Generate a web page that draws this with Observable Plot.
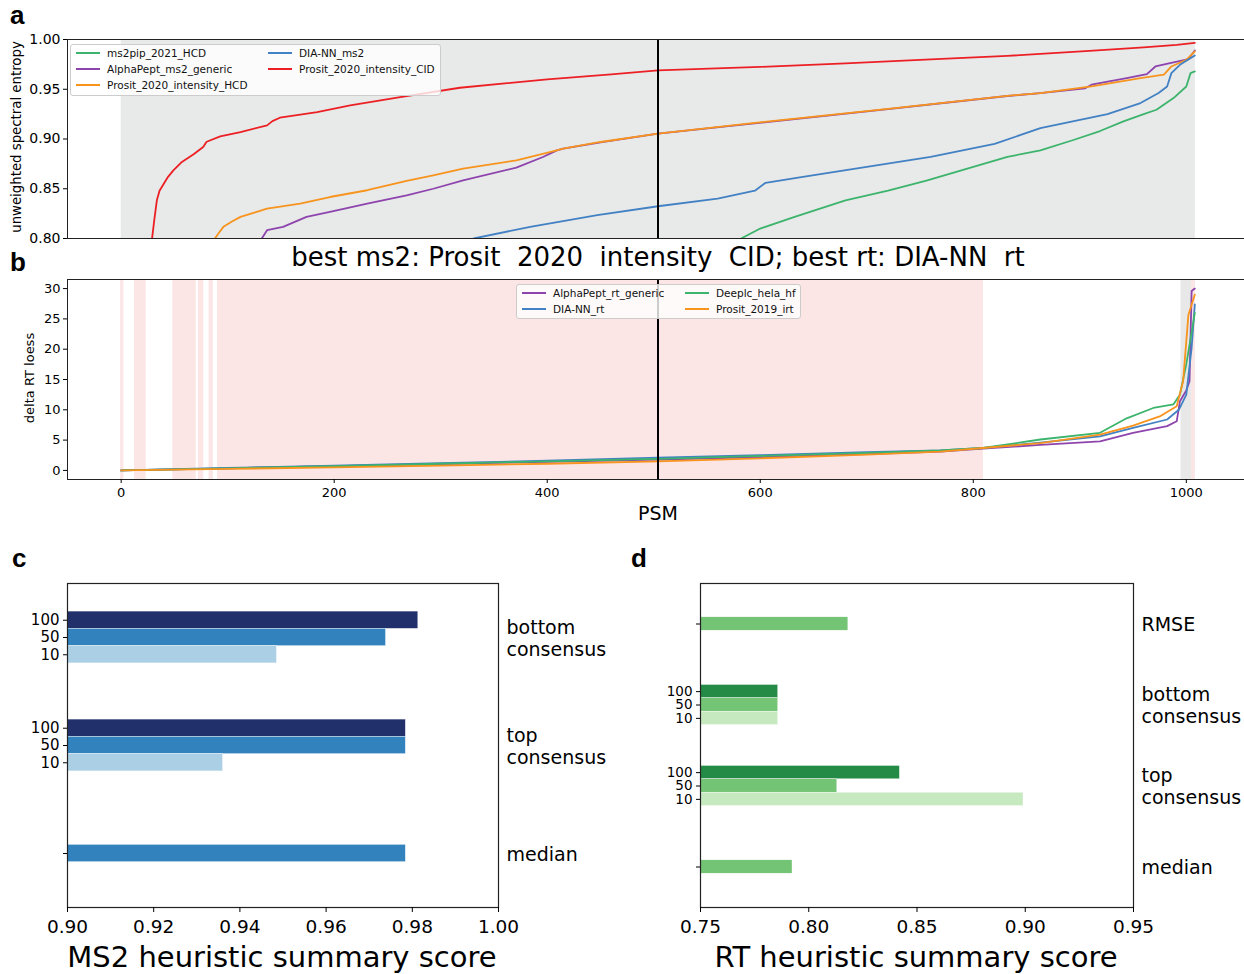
<!DOCTYPE html>
<html>
<head>
<meta charset="utf-8">
<script src="https://cdn.jsdelivr.net/npm/d3@7"></script>
<script src="https://cdn.jsdelivr.net/npm/@observablehq/plot@0.6"></script>
<style>
html, body { margin: 0; padding: 0; background: #fff; width: 1244px; height: 974px; overflow: hidden; }
#root { position: relative; width: 1244px; height: 974px; overflow: hidden; font-family: "DejaVu Sans", sans-serif; color: #000; }
.legend { position: absolute; background: rgba(255,255,255,0.8); border: 1px solid #cccccc; border-radius: 3px; box-sizing: border-box; }
.legend .item { position: absolute; display: flex; align-items: center; font-family: "DejaVu Sans", sans-serif; font-size: 10.5px; white-space: nowrap; color: #111; }
.legend .sw { display: inline-block; width: 24px; height: 2px; margin-right: 7px; }
</style>
</head>
<body>
<div id="root"></div>
<script>
// ---------------- DATA ----------------
// Panel a: sorted unweighted spectral entropy per PSM, [PSM, value]
const ms2pipHCD = [[578,0.78],[582,0.80],[600,0.81],[633,0.822],[680,0.8384],[720,0.848],[756,0.8582],[800,0.872],[832,0.882],[863,0.8886],[894,0.899],[919,0.908],[941,0.9177],[960,0.925],[972,0.9294],[988,0.9411],[1000,0.9528],[1004,0.9662],[1008,0.968]];
const alphaPeptMs2 = [[128,0.78],[132,0.80],[135,0.805],[137,0.8083],[152,0.8117],[174,0.8217],[196,0.8267],[231,0.835],[268,0.8434],[293,0.850],[321,0.8585],[371,0.8712],[396,0.8819],[409,0.8886],[415,0.8903],[450,0.8965],[504,0.9055],[604,0.9168],[720,0.930],[832,0.9432],[863,0.9461],[905,0.951],[911,0.9546],[944,0.9612],[963,0.9652],[971,0.9729],[988,0.9769],[1002,0.9802],[1008,0.989]];
const prositHCD = [[85,0.78],[88,0.80],[92,0.806],[96,0.8117],[104,0.817],[112,0.8217],[125,0.826],[137,0.830],[168,0.835],[196,0.8417],[231,0.8485],[268,0.8578],[293,0.8635],[321,0.8702],[371,0.8786],[409,0.8886],[415,0.8903],[450,0.897],[504,0.9055],[604,0.9172],[720,0.9303],[832,0.9434],[863,0.9461],[911,0.9528],[957,0.9612],[979,0.9646],[986,0.9729],[1000,0.9796],[1008,0.988]];
const diannMs2 = [[328,0.78],[331,0.80],[384,0.8117],[447,0.8234],[504,0.8324],[560,0.840],[595,0.848],[605,0.856],[640,0.862],[700,0.872],[760,0.882],[820,0.895],[863,0.911],[926,0.9249],[957,0.9361],[974,0.9462],[982,0.9528],[986,0.9662],[994,0.9746],[1008,0.984]];
const prositCID = [[26,0.70],[29,0.80],[31,0.818],[33.5,0.8384],[36,0.848],[40,0.855],[44,0.862],[49,0.8685],[57,0.877],[68,0.8846],[77,0.892],[80,0.897],[82,0.898],[93,0.9027],[112,0.907],[137,0.9137],[142,0.918],[149,0.9214],[184,0.927],[215,0.9338],[262,0.942],[318,0.9515],[400,0.960],[460,0.965],[504,0.969],[600,0.9725],[680,0.976],[760,0.980],[832,0.9835],[909,0.9885],[960,0.992],[991,0.9945],[1008,0.9966]];
const ms2Names = ["ms2pip_2021_HCD","AlphaPept_ms2_generic","Prosit_2020_intensity_HCD","DIA-NN_ms2","Prosit_2020_intensity_CID"];
const ms2Colors = ["#3cb46c","#8e44ad","#f7941d","#4281c3","#ec2024"];
const ms2Curves = [ms2pipHCD, alphaPeptMs2, prositHCD, diannMs2, prositCID];

// Panel b: sorted delta RT (loess) per PSM, [PSM, value]
const alphaPeptRt = [[0,0],[100,0.35],[200,0.7],[300,1.05],[400,1.4],[504,1.8],[600,2.2],[700,2.7],[769,3.1],[809,3.6],[863,4.2],[919,4.8],[950,6.2],[982,7.3],[991,8.1],[994,11.4],[1000,13.2],[1003,14.7],[1005,29.6],[1008,30.0]];
const diannRt = [[0,0],[100,0.4],[200,0.8],[300,1.2],[400,1.6],[504,2.1],[600,2.5],[700,3.0],[769,3.3],[809,3.7],[863,4.6],[919,5.6],[950,7.0],[982,8.4],[993,10.0],[1000,12.5],[1005,20.2],[1008,27.4]];
const deeplcHela = [[0,0],[100,0.35],[200,0.7],[300,1.1],[400,1.5],[504,1.9],[600,2.4],[700,2.9],[769,3.3],[809,3.7],[863,5.1],[919,6.2],[944,8.6],[969,10.3],[988,10.9],[994,12.5],[1000,17.5],[1008,26.0]];
const prosit2019Irt = [[0,0],[100,0.25],[200,0.5],[300,0.8],[400,1.1],[504,1.5],[600,2.0],[700,2.6],[769,3.1],[809,3.7],[863,4.5],[919,5.9],[950,7.4],[975,8.9],[991,10.6],[997,14.7],[1002,25.7],[1008,29.0]];
const rtNames = ["AlphaPept_rt_generic","DIA-NN_rt","Deeplc_hela_hf","Prosit_2019_irt"];
const rtColors = ["#8e44ad","#4281c3","#3cb46c","#f7941d"];
const rtCurves = [alphaPeptRt, diannRt, deeplcHela, prosit2019Irt];

const medianPSM = 504;
const ms2ShadeStart = [0], ms2ShadeEnd = [1008.5];
const pinkBandStart = [-0.5, 12.5, 48.5, 72.5, 82.5, 90.5, 1005];
const pinkBandEnd   = [2.5, 23.5, 70.5, 77.5, 86.5, 809.5, 1008.5];
const greyBandStart = [995], greyBandEnd = [1005];

const entropyTicks = [0.80, 0.85, 0.90, 0.95, 1.00];
const deltaTicks = [0, 5, 10, 15, 20, 25, 30];
const psmTicks = [0, 200, 400, 600, 800, 1000];

// Panel c
const consensusLevels = ["100", "50", "10"];
const ms2GroupLabels = ["bottom\nconsensus", "top\nconsensus", "median"];
const ms2BottomScores = [0.9814, 0.9739, 0.9486];
const ms2TopScores = [0.9785, 0.9785, 0.9361];
const ms2MedianScore = 0.9785;
const ms2LevelColors = ["#21306a", "#3182bd", "#abd0e6"];
const ms2ScoreTicks = [0.90, 0.92, 0.94, 0.96, 0.98, 1.00];

// Panel d
const rtGroupLabels = ["RMSE", "bottom\nconsensus", "top\nconsensus", "median"];
const rtRmseScore = 0.8183;
const rtBottomScores = [0.7859, 0.7859, 0.7859];
const rtTopScores = [0.8421, 0.8132, 0.8992];
const rtMedianScore = 0.7925;
const rtLevelColors = ["#238b45", "#74c476", "#c7e9c0"];
const rtScoreTicks = [0.75, 0.80, 0.85, 0.90, 0.95];

// ---------------- LAYOUT ----------------
const root = document.getElementById("root");
function place(el, left, top) {
  el.style.position = "absolute";
  el.style.left = left + "px";
  el.style.top = top + "px";
  root.appendChild(el);
}
const baseStyle = {background: "transparent", overflow: "visible", fontFamily: "'DejaVu Sans', sans-serif", maxWidth: "none", color: "#000"};
const xDomain = [-50.4, 1058.4];
const ptX = d => d[0], ptY = d => d[1];

// Panel a
const aDomain = [0.8, 1.0];
const plotA = Plot.plot({
  width: 1249, height: 250,
  marginLeft: 67, marginRight: 1, marginTop: 39, marginBottom: 12,
  x: {domain: xDomain, axis: null},
  y: {domain: aDomain},
  style: baseStyle,
  marks: [
    Plot.rect(ms2ShadeStart.map((s, i) => ({x1: s, x2: ms2ShadeEnd[i], y1: aDomain[0], y2: aDomain[1]})), {x1: "x1", x2: "x2", y1: "y1", y2: "y2", fill: "#e8e9e9"}),
    ...ms2Curves.map((c, i) => Plot.line(c, {x: ptX, y: ptY, stroke: ms2Colors[i], strokeWidth: 1.8, clip: true})),
    Plot.ruleX([medianPSM], {stroke: "#000", strokeWidth: 2}),
    Plot.frame({stroke: "#222", strokeWidth: 1}),
    Plot.axisY({ticks: entropyTicks, tickFormat: ".2f", tickSize: 4, tickPadding: 3, fontSize: 14, label: null})
  ]
});
place(plotA, 0, 0);

// Panel b
const bDomain = [-1.5, 31.5];
const bandRows = [
  ...pinkBandStart.map((s, i) => ({x1: s, x2: pinkBandEnd[i], y1: bDomain[0], y2: bDomain[1], fill: "#fbe5e5"})),
  ...greyBandStart.map((s, i) => ({x1: s, x2: greyBandEnd[i], y1: bDomain[0], y2: bDomain[1], fill: "#e8e8e8"}))
];
const plotB = Plot.plot({
  width: 1249, height: 272,
  marginLeft: 67, marginRight: 1, marginTop: 17, marginBottom: 55,
  x: {domain: xDomain},
  y: {domain: bDomain},
  color: {type: "identity"},
  style: baseStyle,
  marks: [
    Plot.rect(bandRows, {x1: "x1", x2: "x2", y1: "y1", y2: "y2", fill: "fill"}),
    ...rtCurves.map((c, i) => Plot.line(c, {x: ptX, y: ptY, stroke: rtColors[i], strokeWidth: 1.8, clip: true})),
    Plot.ruleX([medianPSM], {stroke: "#000", strokeWidth: 2}),
    Plot.frame({stroke: "#222", strokeWidth: 1}),
    Plot.axisY({ticks: deltaTicks, tickSize: 4, tickPadding: 3, fontSize: 13, label: null}),
    Plot.axisX({ticks: psmTicks, tickFormat: d3.format("d"), tickSize: 4, tickPadding: 4, fontSize: 13, label: null})
  ]
});
place(plotB, 0, 262);

// Bar panels
function barPanel(groups, levelColors, step, opts) {
  const rows = [];
  const tickPos = [], tickLab = [];
  groups.forEach(g => {
    if (g.scores.length === 3) {
      g.scores.forEach((v, li) => {
        const pos = g.index + (li - 1) * step;
        rows.push({v, y1: pos - step / 2, y2: pos + step / 2, fill: levelColors[li]});
        tickPos.push(pos); tickLab.push(consensusLevels[li]);
      });
    } else {
      rows.push({v: g.scores[0], y1: g.index - step / 2, y2: g.index + step / 2, fill: levelColors[1]});
      tickPos.push(g.index); tickLab.push("");
    }
  });
  const n = groups.length;
  return Plot.plot({
    width: opts.width, height: 434,
    marginLeft: opts.marginLeft, marginRight: opts.marginRight, marginTop: 43, marginBottom: 67,
    x: {domain: opts.xDomain},
    y: {domain: [n - 0.5, -0.5]},
    color: {type: "identity"},
    style: baseStyle,
    marks: [
      Plot.rect(rows, {x1: () => 0, x2: "v", y1: "y1", y2: "y2", fill: "fill", stroke: "#ffffff", strokeWidth: 0.4, clip: true}),
      Plot.frame({stroke: "#222", strokeWidth: 1.2}),
      Plot.axisY({ticks: tickPos, tickFormat: d => tickLab[tickPos.findIndex(p => Math.abs(p - d) < 1e-9)], tickSize: 4, tickPadding: 4, fontSize: opts.yFont, label: null}),
      Plot.axisX({ticks: opts.ticks, tickFormat: ".2f", tickSize: 5, tickPadding: 7, fontSize: 18.5, label: null}),
      Plot.text(groups, {y: "index", text: "label", frameAnchor: "right", textAnchor: "start", dx: 8, fontSize: 19, lineHeight: 1.16})
    ]
  });
}

const plotC = barPanel([
  {index: 0, label: ms2GroupLabels[0], scores: ms2BottomScores},
  {index: 1, label: ms2GroupLabels[1], scores: ms2TopScores},
  {index: 2, label: ms2GroupLabels[2], scores: [ms2MedianScore]}
], ms2LevelColors, 0.16, {width: 620, marginLeft: 67, marginRight: 122, xDomain: [0.90, 1.00], ticks: ms2ScoreTicks, yFont: 15});
place(plotC, 0, 540);

const plotD = barPanel([
  {index: 0, label: rtGroupLabels[0], scores: [rtRmseScore]},
  {index: 1, label: rtGroupLabels[1], scores: rtBottomScores},
  {index: 2, label: rtGroupLabels[2], scores: rtTopScores},
  {index: 3, label: rtGroupLabels[3], scores: [rtMedianScore]}
], rtLevelColors, 0.165, {width: 624, marginLeft: 80, marginRight: 111, xDomain: [0.75, 0.95], ticks: rtScoreTicks, yFont: 13.5});
place(plotD, 620, 540);

// Legends
function legend(names, colors, box, rowsPerCol, colW) {
  const div = document.createElement("div");
  div.className = "legend";
  div.style.width = box.w + "px";
  div.style.height = box.h + "px";
  names.forEach((name, i) => {
    const item = document.createElement("div");
    item.className = "item";
    const sw = document.createElement("span");
    sw.className = "sw";
    sw.style.background = colors[i];
    item.appendChild(sw);
    item.appendChild(document.createTextNode(name));
    item.style.left = (5 + Math.floor(i / rowsPerCol) * colW) + "px";
    item.style.top = (1 + (i % rowsPerCol) * 16) + "px";
    item.style.height = "14px";
    div.appendChild(item);
  });
  place(div, box.x, box.y);
}
legend(ms2Names, ms2Colors, {x: 70, y: 44, w: 371, h: 52}, 3, 192);
legend(rtNames, rtColors, {x: 516, y: 284, w: 285, h: 35}, 2, 163);

// Text overlay: panel letters, titles, axis labels
const overlay = `<svg width="1244" height="974" xmlns="http://www.w3.org/2000/svg" style="position:absolute;left:0;top:0;pointer-events:none" font-family="DejaVu Sans, sans-serif">
  <g font-family="Liberation Sans, Arial, sans-serif" font-weight="bold" font-size="26">
    <text x="10" y="24">a</text>
    <text x="10" y="271">b</text>
    <text x="12" y="567">c</text>
    <text x="631" y="567">d</text>
  </g>
  <text x="658" y="266" text-anchor="middle" font-size="26" xml:space="preserve">best ms2: Prosit  2020  intensity  CID; best rt: DIA-NN  rt</text>
  <text transform="translate(21,137) rotate(-90)" text-anchor="middle" font-size="13.3">unweighted spectral entropy</text>
  <text transform="translate(34,378) rotate(-90)" text-anchor="middle" font-size="13">delta RT loess</text>
  <text x="658" y="520" text-anchor="middle" font-size="19">PSM</text>
  <text x="282" y="967" text-anchor="middle" font-size="29">MS2 heuristic summary score</text>
  <text x="916" y="967" text-anchor="middle" font-size="29">RT heuristic summary score</text>
</svg>`;
const holder = document.createElement("div");
holder.innerHTML = overlay;
const ov = holder.firstElementChild;
root.appendChild(ov);
</script>
</body>
</html>
